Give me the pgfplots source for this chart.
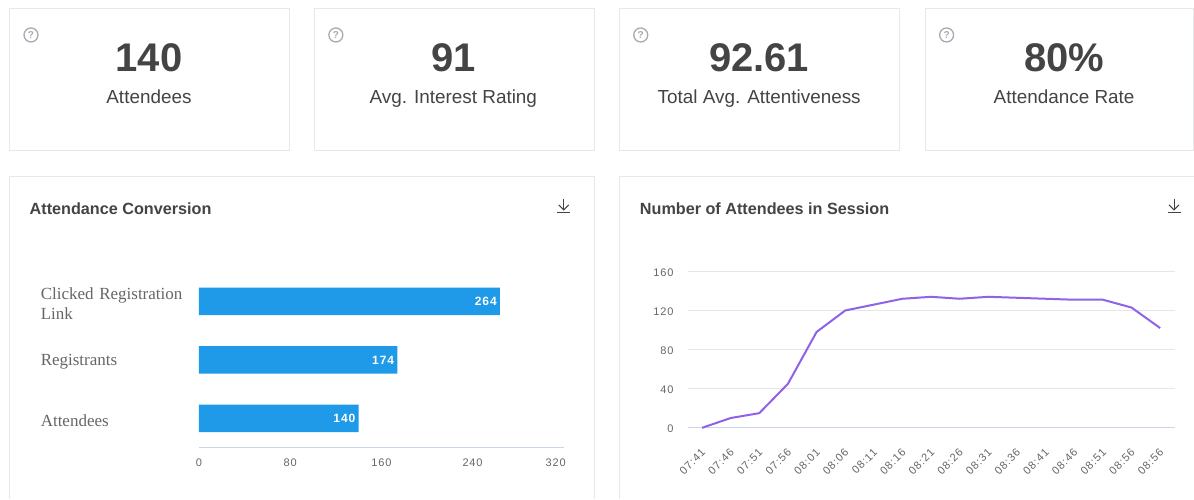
\documentclass[border=0pt]{standalone}
\usepackage{fontspec}
\setmainfont{Liberation Sans}
\newfontfamily\serifl{Liberation Serif}
\newfontfamily\tickf[LetterSpace=8]{Liberation Sans}
\newfontfamily\valf[LetterSpace=8]{Liberation Sans}
\usepackage{pgfplots}
\pgfplotsset{compat=1.18}
\definecolor{cardb}{HTML}{E6E8EC}
\definecolor{txt}{HTML}{444444}
\definecolor{tick}{HTML}{666666}
\definecolor{barc}{HTML}{1F9AE8}
\definecolor{linec}{HTML}{8E63E8}
\definecolor{axisc}{HTML}{CCD6EB}
\definecolor{gridc}{HTML}{E6E6E6}
\definecolor{helpc}{HTML}{A9A9B3}
\newcommand{\fs}[1]{\fontsize{#1}{#1}\selectfont}
\begin{document}
\begin{tikzpicture}[x=1pt,y=1pt]
\fill[white] (0,0) rectangle (1194,499);
% KPI cards
\foreach \xa/\big/\lab/\cx in {9.5/140/Attendees/149,
  314.5/91/{Avg. Interest Rating}/453.5,
  619.5/92.61/{Total Avg. Attentiveness}/759.5,
  925.5/80\%/{Attendance Rate}/1064.5}{
  \pgfmathsetmacro{\xb}{min(\xa+280,1194)}
  \draw[cardb,line width=1pt] (\xa,490) rectangle (\xb,348);
  \node[text=txt,font=\fs{40}\bfseries,anchor=base] at (\cx,427) {\big};
  \node[text=txt,font=\fs{18.9},anchor=base] at (\cx,395) {\lab};
  \pgfmathsetmacro{\hx}{\xa+21.5}
  \draw[helpc,line width=1.3pt] (\hx,464) circle (7);
  \node[text=helpc,font=\fs{10}\bfseries,anchor=center] at (\hx,464) {?};
}
% chart cards
\draw[cardb,line width=1pt] (9.5,0) -- (9.5,322) -- (595,322) -- (595,0);
\draw[cardb,line width=1pt] (619.5,0) -- (619.5,322) -- (1194,322);
\node[text=txt,font=\fs{16.2}\bfseries,anchor=west,inner sep=0] at (29.5,290.5) {Attendance Conversion};
\node[text=txt,font=\fs{16.2}\bfseries,anchor=west,inner sep=0] at (640,290.5) {Number of Attendees in Session};
% download icons
\foreach \cx in {564,1174.5}{
  \draw[txt,line width=1pt] (\cx-6.5,286.5) -- (\cx+6.5,286.5);
  \draw[txt,line width=1pt] (\cx,300) -- (\cx,289);
  \draw[txt,line width=1pt] (\cx-5,294) -- (\cx,289) -- (\cx+5,294);
}
% bar chart
\begin{axis}[
  at={(199pt,51pt)},anchor=south west,
  scale only axis,width=365pt,height=168pt,
  xmin=0,xmax=320,ymin=-0.503,ymax=2.369,
  axis lines=left,
  x axis line style={axisc,line width=1pt,-},
  y axis line style={draw=none},
  xtick={0,80,160,240,320},
  xticklabels={0,80,160,240,\makebox[0pt][r]{320\hspace*{-2pt}}},
  ytick={0,1,2},
  yticklabels={Attendees,Registrants,{Clicked Registration\\Link}},
  major tick length=0pt,
  tick style={draw=none},
  xticklabel style={font=\fs{11}\tickf,text=tick,yshift=-7pt},
  yticklabel style={font=\fontsize{17}{19.5}\selectfont\serifl,text=tick,align=left,text width=150pt,
    anchor=east,inner sep=0pt,xshift=-8pt,yshift=-2pt},
  /pgf/number format/assume math mode=true,
  clip=false,
]
\addplot[xbar,bar width=27.5pt,draw=none,fill=barc,bar shift=0pt,
  nodes near coords,
  nodes near coords style={anchor=east,text=white,font=\fs{12}\bfseries\valf,inner sep=0pt,xshift=-3pt}]
  coordinates {(140,0) (174,1) (264,2)};
\end{axis}
% line chart
\begin{axis}[
  at={(688pt,71pt)},anchor=south west,
  scale only axis,width=487pt,height=156.5pt,
  xmin=-0.5,xmax=16.5,ymin=0,ymax=160,
  axis lines=left,
  x axis line style={axisc,line width=1pt,-},
  y axis line style={draw=none},
  ymajorgrids,
  grid style={gridc,line width=1pt},
  ytick={0,40,80,120,160},
  xtick={0,...,16},
  xticklabels={07:41,07:46,07:51,07:56,08:01,08:06,08:11,08:16,08:21,08:26,08:31,08:36,08:41,08:46,08:51,08:56,08:56},
  major tick length=0pt,
  tick style={draw=none},
  xticklabel style={font=\fs{11}\tickf,text=tick,rotate=45,anchor=north east,inner sep=0pt,yshift=-13pt,xshift=-15pt},
  yticklabel style={font=\fs{11}\tickf,text=tick,anchor=east,inner sep=0pt,xshift=-14pt,yshift=-1pt},
  /pgf/number format/assume math mode=true,
  clip=false,
]
\addplot[linec,line width=2pt,line join=round] coordinates {
 (0,0) (1,10) (2,15) (3,45) (4,98) (5,120) (6,126) (7,132) (8,134) (9,132)
 (10,134) (11,133) (12,132) (13,131) (14,131) (15,123) (16,102)};
\end{axis}
\end{tikzpicture}
\end{document}
